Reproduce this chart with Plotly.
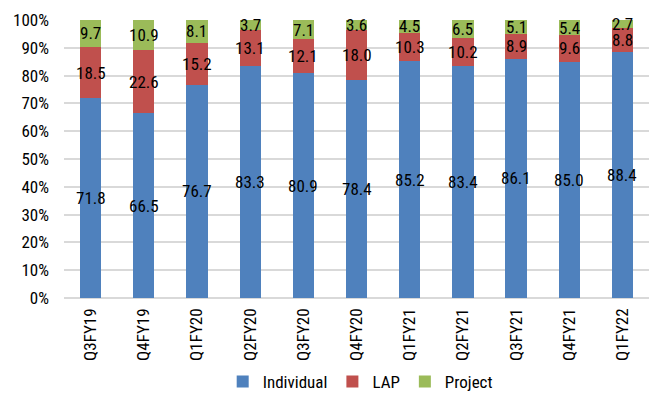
import plotly.graph_objects as go

quarters = ["Q3FY19", "Q4FY19", "Q1FY20", "Q2FY20", "Q3FY20", "Q4FY20",
            "Q1FY21", "Q2FY21", "Q3FY21", "Q4FY21", "Q1FY22"]
individual = [71.8, 66.5, 76.7, 83.3, 80.9, 78.4, 85.2, 83.4, 86.1, 85.0, 88.4]
lap = [18.5, 22.6, 15.2, 13.1, 12.1, 18.0, 10.3, 10.2, 8.9, 9.6, 8.8]
project = [9.7, 10.9, 8.1, 3.7, 7.1, 3.6, 4.5, 6.5, 5.1, 5.4, 2.7]

series = [
    ("Individual", individual, "#4F81BD"),
    ("LAP", lap, "#C0504D"),
    ("Project", project, "#9BBB59"),
]

font_family = "Roboto Condensed, Liberation Sans, Arial, sans-serif"
text_weight = 400

fig = go.Figure()
base = [0.0] * len(quarters)
annotations = []
for name, vals, color in series:
    fig.add_trace(go.Bar(
        name=name,
        x=quarters,
        y=vals,
        marker=dict(color=color, line=dict(width=0)),
    ))
    # value labels centred in each stacked segment
    for q, b, v in zip(quarters, base, vals):
        annotations.append(dict(
            x=q, y=b + v / 2, xref="x", yref="y",
            text=f"{v:.1f}", showarrow=False,
            font=dict(family=font_family, size=17, color="#000000",
                      weight=text_weight),
        ))
    base = [b + v for b, v in zip(base, vals)]

fig.update_layout(
    barmode="stack",
    bargap=0.6,
    width=649,
    height=400,
    margin=dict(l=64, r=0, t=20, b=102),
    paper_bgcolor="white",
    plot_bgcolor="white",
    font=dict(family=font_family, size=17, color="#000000", weight=text_weight),
    annotations=annotations,
    showlegend=True,
    legend=dict(
        orientation="h",
        x=0.555, xanchor="center", xref="container",
        y=0.0, yanchor="bottom", yref="container",
        font=dict(family=font_family, size=17, color="#000000",
                  weight=text_weight),
        itemwidth=30,
        traceorder="normal",
    ),
    xaxis=dict(
        tickangle=-90,
        showgrid=False,
        showline=False,
        ticks="",
        automargin=False,
        ticklabelstandoff=6,
        tickfont=dict(family=font_family, size=17, weight=text_weight),
    ),
    yaxis=dict(
        range=[0, 100],
        dtick=10,
        ticksuffix="%",
        showgrid=True,
        gridcolor="#D9D9D9",
        gridwidth=2,
        zeroline=True,
        zerolinecolor="#D9D9D9",
        zerolinewidth=2,
        ticks="",
        automargin=False,
        ticklabelstandoff=14,
        tickfont=dict(family=font_family, size=17, weight=text_weight),
    ),
)

fig.write_html("out.html")
